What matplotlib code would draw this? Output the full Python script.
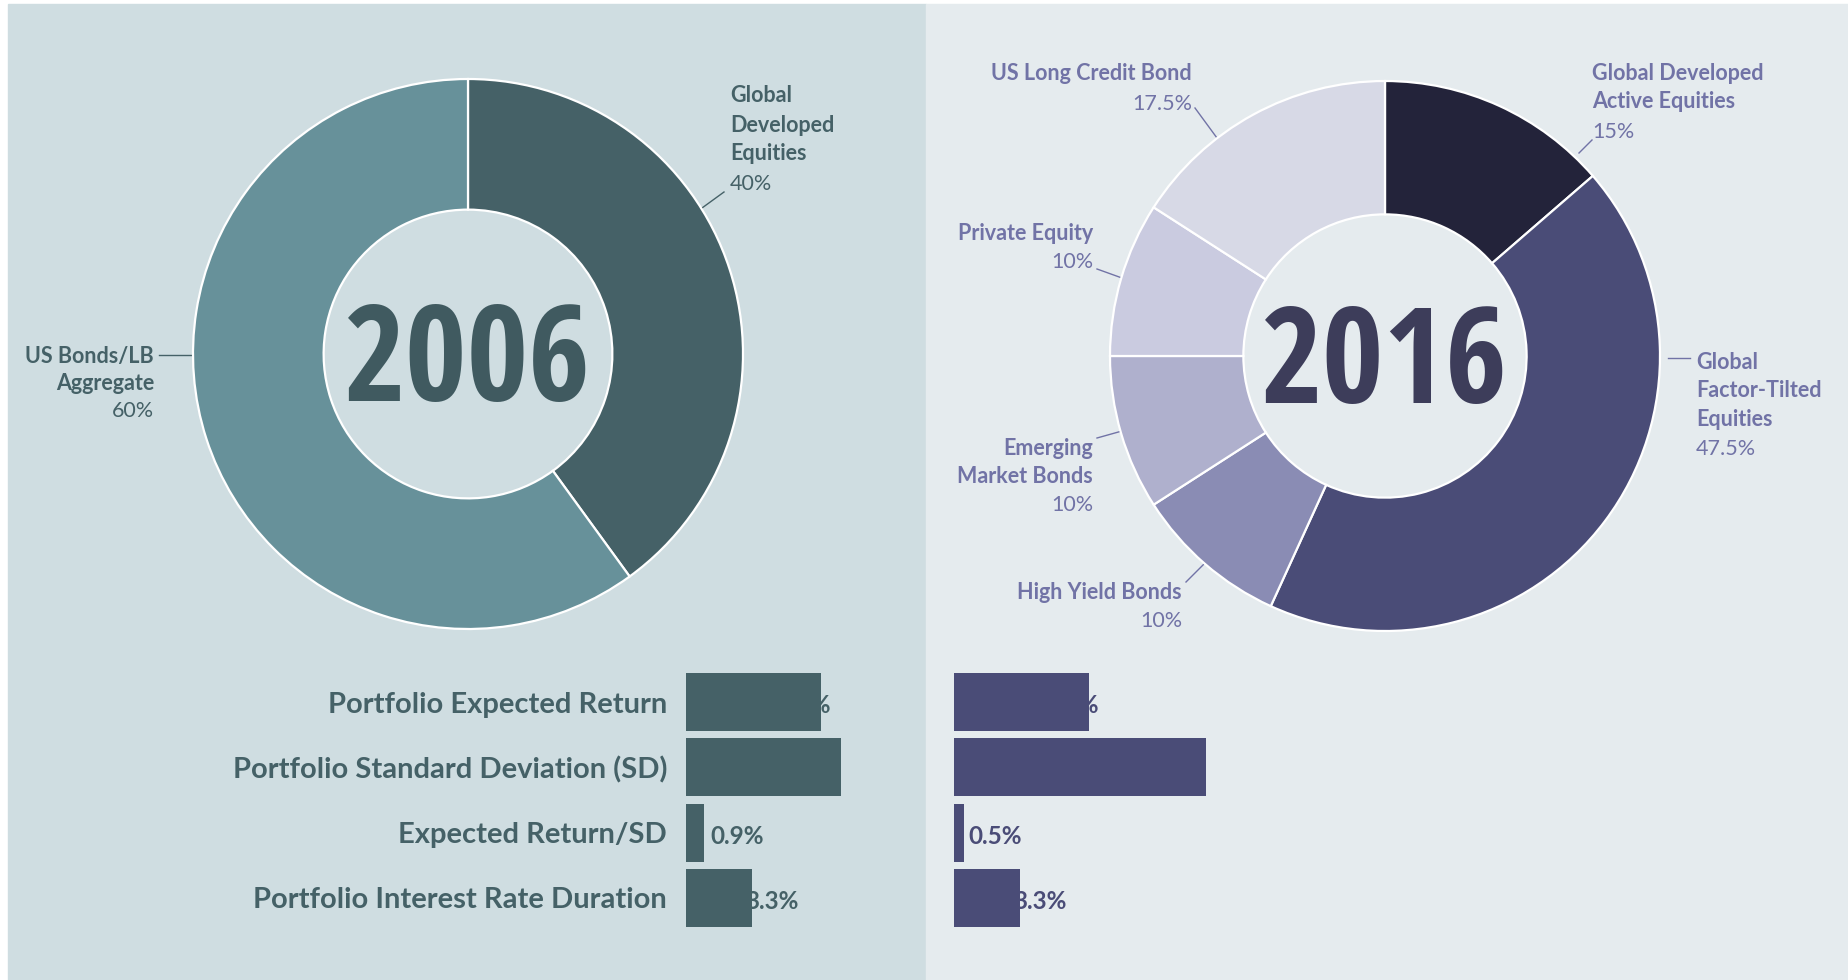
import matplotlib
matplotlib.use('Agg')
import matplotlib.pyplot as plt
from matplotlib.patches import Rectangle
from matplotlib import font_manager

W, H = 1849, 980

# ---- data ----
mix_2006 = [40, 60]
mix_2006_names = [['Global', 'Developed', 'Equities'], ['US Bonds/LB', 'Aggregate']]
mix_2016 = [15, 47.5, 10, 10, 10, 17.5]
mix_2016_names = [['Global Developed', 'Active Equities'], ['Global', 'Factor-Tilted', 'Equities'],
                  ['High Yield Bonds'], ['Emerging', 'Market Bonds'], ['Private Equity'],
                  ['US Long Credit Bond']]
metrics = ['Portfolio Expected Return', 'Portfolio Standard Deviation (SD)',
           'Expected Return/SD', 'Portfolio Interest Rate Duration']
stats_2006 = [6.8, 7.8, 0.9, 3.3]
stats_2016 = [6.8, 12.7, 0.5, 3.3]

# ---- style ----
bg_left, bg_right = '#cfdde1', '#e5ebee'
teal = ['#456167', '#67919a']
purples = ['#23233a', '#4a4c77', '#8a8cb4', '#afb0cd', '#cacbe0', '#d7d9e6']
teal_txt, purple_txt = '#456167', '#7173a6'
year_cols = ['#405a60', '#3d3d5a']

plt.rcParams['font.family'] = ['Lato', 'DejaVu Sans']


def pick(names):
    for n in names:
        try:
            font_manager.findfont(font_manager.FontProperties(family=n), fallback_to_default=False)
            return n
        except ValueError:
            pass
    return 'DejaVu Sans'


year_font = pick(['Liberation Sans Narrow', 'DejaVu Sans Condensed', 'Open Sans Condensed', 'Liberation Sans'])

fig = plt.figure(figsize=(W / 100, H / 100), dpi=100)
fig.patch.set_facecolor('white')

# background / annotation layer in pixel coordinates
bg = fig.add_axes([0, 0, 1, 1])
bg.set_xlim(0, W)
bg.set_ylim(H, 0)
bg.axis('off')
bg.add_patch(Rectangle((8, 4), 918, H - 4, color=bg_left, zorder=0))
bg.add_patch(Rectangle((926, 4), W - 926, H - 4, color=bg_right, zorder=0))


def add_pie(cx, cy, r, values, colors, year, ycol, hole):
    ax = fig.add_axes([(cx - r) / W, (H - cy - r) / H, 2 * r / W, 2 * r / H])
    ax.pie(values, colors=colors, startangle=90, counterclock=False, radius=1,
           wedgeprops=dict(width=1 - hole, edgecolor='white', linewidth=1.6))
    ax.set_xlim(-1, 1)
    ax.set_ylim(-1, 1)
    ax.set_aspect('equal')
    ax.patch.set_alpha(0)
    ax.text(0, -0.17, year, ha='center', va='baseline', fontsize=96,
            fontweight='bold', family=year_font, color=ycol)
    return ax


add_pie(468, 354, 275, mix_2006, teal, '2006', year_cols[0], 0.525)
add_pie(1385, 356, 275, mix_2016, purples, '2016', year_cols[1], 0.515)


def slice_label(x, y0, step, names, value, ha, col, leader):
    for i, ln in enumerate(names):
        bg.text(x, y0 + i * step + 7.5, ln, ha=ha, va='baseline', fontsize=15.5,
                fontweight='bold', color=col)
    bg.text(x, y0 + len(names) * step + 7.5, f'{value:g}%', ha=ha, va='baseline',
            fontsize=15.5, color=col)
    bg.plot([leader[0], leader[2]], [leader[1], leader[3]], color=col, lw=1)


# label anchors: (x, first line centre, spacing, alignment, leader line)
layout_2006 = [(730, 95, 29, 'left', (702, 208, 724, 192)),
               (154, 355, 27, 'right', (159, 355, 192, 355))]
layout_2016 = [(1592, 72, 29, 'left', (1579, 153, 1592, 140)),
               (1696, 361, 28.7, 'left', (1668, 358, 1690, 358)),
               (1182, 591, 28, 'right', (1205, 563, 1186, 582)),
               (1093, 447, 28, 'right', (1122, 431, 1097, 438)),
               (1093, 232, 28, 'right', (1122, 278, 1097, 269)),
               (1192, 73, 30, 'right', (1217, 138, 1195, 108))]

for names, v, (x, y0, st, ha, ld) in zip(mix_2006_names, mix_2006, layout_2006):
    slice_label(x, y0, st, names, v, ha, teal_txt, ld)
for names, v, (x, y0, st, ha, ld) in zip(mix_2016_names, mix_2016, layout_2016):
    slice_label(x, y0, st, names, v, ha, purple_txt, ld)

# ---- bars ----
px_per_unit = 19.85
row_step = 65.3
top = 702 - row_step / 2
bar_h_px = row_step * 4


def add_bars(x0, width_px, values, col, show_names):
    ax = fig.add_axes([x0 / W, (H - top - bar_h_px) / H, width_px / W, bar_h_px / H])
    ax.set_xlim(0, width_px / px_per_unit)
    ax.set_ylim(3.5, -0.5)
    rows = list(range(len(values)))
    ax.barh(rows, values, height=0.89, color=col, zorder=2)
    # value labels sit partly behind the bars, as in the original infographic
    for i, v in zip(rows, values):
        ax.text((40 + 40 * v ** 0.5) / px_per_unit, i + 0.17, f'{v:.1f}%', ha='right',
                va='baseline', fontsize=17.5, fontweight='bold', color=col, zorder=1)
    ax.set_xticks([])
    ax.set_yticks(rows)
    if show_names:
        ax.set_yticklabels(metrics, fontsize=21, fontweight='bold', color=teal_txt)
    else:
        ax.set_yticklabels([])
    ax.tick_params(axis='y', length=0, pad=13.5)
    for s in ax.spines.values():
        s.set_visible(False)
    ax.patch.set_alpha(0)


add_bars(686, 230, stats_2006, teal[0], True)
add_bars(954, 450, stats_2016, purples[1], False)

fig.savefig('out.png', dpi=100, facecolor='white')
